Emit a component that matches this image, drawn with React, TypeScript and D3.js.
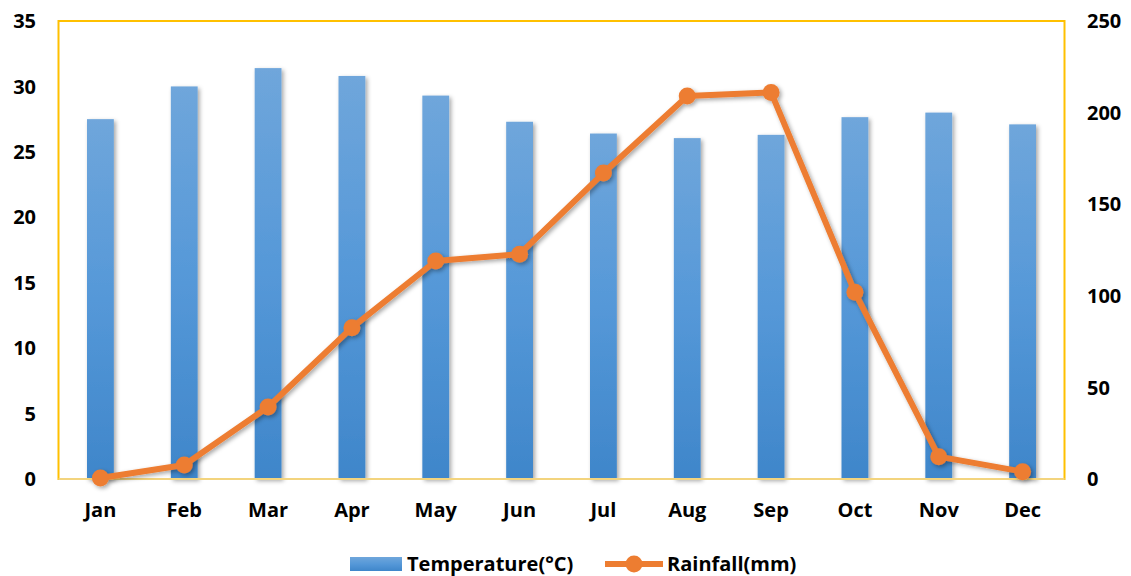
import React from "react";
import * as d3 from "d3";

const months = ["Jan", "Feb", "Mar", "Apr", "May", "Jun", "Jul", "Aug", "Sep", "Oct", "Nov", "Dec"];
const temperature = [27.5, 30.0, 31.4, 30.8, 29.3, 27.3, 26.4, 26.05, 26.3, 27.65, 28.0, 27.1];
const rainfall = [0.5, 7.6, 39.3, 82.6, 119, 122.7, 167, 209, 211, 101.9, 12.2, 4.0];
const tempTicks = [0, 5, 10, 15, 20, 25, 30, 35];
const rainTicks = [0, 50, 100, 150, 200, 250];

const W = 1131;
const H = 576;
const m = { left: 58.5, right: 1064.5, top: 21, bottom: 479 };
const FONT = "'Open Sans', Lato, sans-serif";
const FS = 20;
const ORANGE = "#ED7D31";
const GOLD = "#FFC000";

export default function App() {
  const x = d3.scaleBand<string>().domain(months).range([m.left, m.right]).paddingInner(0.68).paddingOuter(0.34);
  const yT = d3.scaleLinear().domain([0, 35]).range([m.bottom, m.top]);
  const yR = d3.scaleLinear().domain([0, 250]).range([m.bottom, m.top]);
  const cx = (mo: string) => (x(mo) ?? 0) + x.bandwidth() / 2;

  const line = d3
    .line<number>()
    .x((_, i) => cx(months[i]))
    .y((d) => yR(d));

  return (
    <svg width={W} height={H} style={{ position: "absolute", left: 0, top: 0, background: "#fff" }}>
      <defs>
        <linearGradient id="barGrad" x1="0" y1="0" x2="0" y2="1">
          <stop offset="0" stopColor="#6FA6DB" />
          <stop offset="0.5" stopColor="#5598D8" />
          <stop offset="1" stopColor="#3F86CA" />
        </linearGradient>
        <filter id="shadow" x="-30%" y="-10%" width="160%" height="130%">
          <feDropShadow dx="2" dy="2" stdDeviation="2" floodColor="#000" floodOpacity="0.35" />
        </filter>
      </defs>

      {/* plot frame */}
      <rect x={m.left} y={m.top} width={m.right - m.left} height={m.bottom - m.top} fill="none" stroke={GOLD} strokeWidth={2} />

      {/* temperature bars */}
      <g filter="url(#shadow)">
        {temperature.map((v, i) => (
          <rect
            key={months[i]}
            x={x(months[i])}
            y={yT(v)}
            width={x.bandwidth()}
            height={yT(0) - yT(v)}
            fill="url(#barGrad)"
          />
        ))}
      </g>

      {/* category axis line */}
      <line x1={m.left} x2={m.right} y1={m.bottom} y2={m.bottom} stroke="#F3D47E" strokeWidth={2} />

      {/* rainfall line */}
      <g filter="url(#shadow)">
        <path d={line(rainfall) ?? ""} fill="none" stroke={ORANGE} strokeWidth={6} strokeLinejoin="round" />
        {rainfall.map((v, i) => (
          <circle key={months[i]} cx={cx(months[i])} cy={yR(v)} r={8.5} fill={ORANGE} />
        ))}
      </g>

      {/* left axis labels */}
      {tempTicks.map((t) => (
        <text key={t} x={36} y={yT(t)} dy="0.36em" textAnchor="end" fontFamily={FONT} fontWeight={700} fontSize={FS} fill="#000">
          {t}
        </text>
      ))}

      {/* right axis labels */}
      {rainTicks.map((t) => (
        <text key={t} x={1087} y={yR(t)} dy="0.36em" textAnchor="start" fontFamily={FONT} fontWeight={700} fontSize={FS} fill="#000">
          {t}
        </text>
      ))}

      {/* month labels */}
      {months.map((mo) => (
        <text key={mo} x={cx(mo)} y={510} dy="0.36em" textAnchor="middle" fontFamily={FONT} fontWeight={700} fontSize={FS} fill="#000">
          {mo}
        </text>
      ))}

      {/* legend */}
      <rect x={350} y={557} width={52} height={14} fill="url(#barGrad)" />
      <text x={407} y={564} dy="0.36em" fontFamily={FONT} fontWeight={700} fontSize={FS} fill="#000">
        Temperature(°C)
      </text>
      <line x1={605} x2={663} y1={564} y2={564} stroke={ORANGE} strokeWidth={6} />
      <circle cx={634} cy={564} r={8.5} fill={ORANGE} />
      <text x={667} y={564} dy="0.36em" fontFamily={FONT} fontWeight={700} fontSize={FS} fill="#000">
        Rainfall(mm)
      </text>
    </svg>
  );
}
